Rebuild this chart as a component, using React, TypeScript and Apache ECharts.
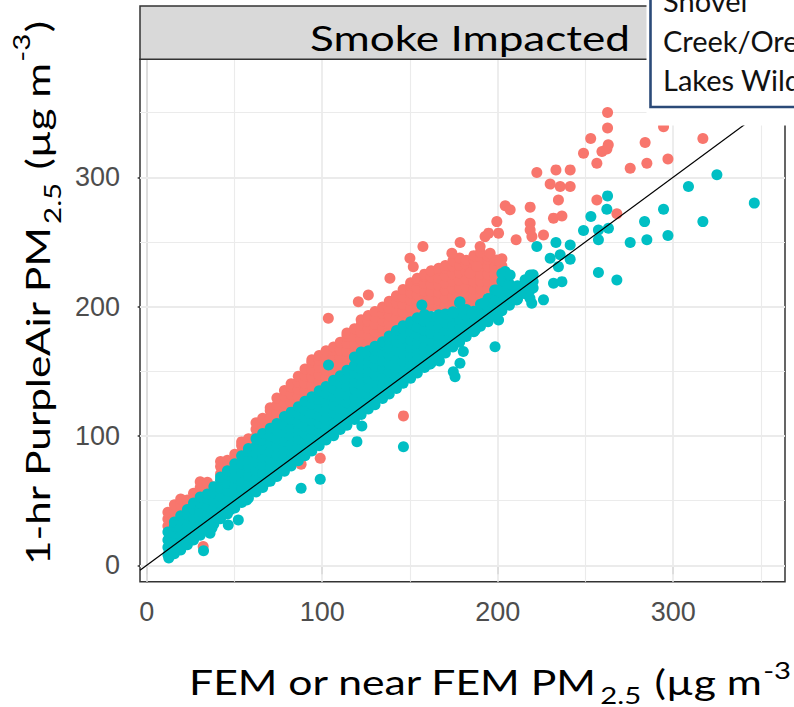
import { useEffect, useRef } from 'react';
import * as echarts from 'echarts';

// Panel limits (µg m-3), including the usual 5% padding around the data
const X_MIN = -3.8;
const X_MAX = 363.7;
const Y_MIN = -12.7;
const Y_MAX = 391.2;

const majorBreaks = [0, 100, 200, 300];
const minorBreaks = [50, 150, 250, 350];

const stripLabel = 'Smoke Impacted';
const siteLabel = ['Shovel', 'Creek/Ore', 'Lakes Wild'];

const SALMON = '#F8766D';
const TEAL = '#00BFC4';

// Dense part of the salmon cloud: [FEM value, PurpleAir values at that FEM value]
const salmonBand: [number, number[]][] = [
  [12.1, [30.4, 35.8, 40.9]],
  [15.8, [36.2, 41.7, 46.8]],
  [19.4, [41.5, 46.9, 51.2]],
  [23.2, [45.3, 50.4]],
  [26.7, [49.8, 55.6]],
  [30.5, [55.1, 60.2, 64.6]],
  [34.6, [57.4, 62.9, 64.1]],
  [38.3, [60.6]],
  [42.1, [70.6, 76.3, 80.2]],
  [46.0, [75.4, 81.2]],
  [50.2, [80.3, 85.9]],
  [54.1, [87.1, 92.6, 95.4]],
  [58.0, [92.4, 97.9]],
  [62.3, [99.6, 105.2, 110.1]],
  [66.1, [103.8, 109.4, 113.6]],
  [70.4, [108.1, 113.9, 119.5, 121.8]],
  [74.2, [112.3, 118.1, 123.9, 129.4]],
  [78.5, [114.6, 119.2, 125.1, 130.8, 135.2]],
  [82.3, [121.1, 126.4, 132.2, 137.9, 140.3]],
  [86.4, [125.3, 130.2, 135.9, 141.6, 146.1]],
  [90.2, [129.6, 134.8, 140.5, 146.3, 151.7]],
  [94.1, [134.2, 139.6, 145.3, 151.1, 156.8, 158.9]],
  [98.3, [137.4, 141.7, 147.3, 153.1, 158.8, 162.2]],
  [102.2, [141.0, 145.1, 150.9, 156.6, 162.3, 165.8]],
  [106.5, [145.2, 148.9, 154.6, 160.4, 166.1, 168.7]],
  [110.3, [149.7, 154.8, 160.6, 166.3, 172.5]],
  [114.1, [154.3, 159.9, 165.7, 171.4, 177.2, 179.6]],
  [118.4, [160.1, 165.3, 171.1, 176.8, 182.9]],
  [122.2, [163.5, 168.6, 174.4, 180.1, 185.8, 189.9]],
  [126.3, [166.9, 171.5, 177.3, 183.0, 188.7, 193.1]],
  [130.1, [170.2, 174.8, 180.6, 186.3, 192.0, 196.2]],
  [134.4, [173.4, 177.6, 183.4, 189.1, 194.8, 199.7]],
  [138.2, [177.6, 181.3, 187.1, 192.8, 198.5, 204.1]],
  [142.3, [181.2, 185.6, 191.4, 197.1, 202.8, 208.4]],
  [146.1, [185.6, 190.2, 195.9, 201.7, 207.4, 213.2]],
  [150.4, [189.3, 193.5, 199.3, 205.0, 210.7, 216.4, 218.5]],
  [154.2, [192.8, 197.4, 203.1, 208.9, 214.6, 220.3, 221.9]],
  [158.3, [196.1, 200.6, 206.3, 212.1, 217.8, 223.5, 225.1]],
  [162.1, [200.1, 205.8, 211.6, 217.3, 223.1, 227.8]],
  [166.4, [199.2, 204.9, 210.7, 216.4, 222.2, 227.9, 229.6]],
  [170.2, [200.9, 206.6, 212.4, 218.1, 223.9, 229.6, 231.8]],
  [174.5, [202.3, 208.1, 213.8, 219.6, 225.3, 231.1, 235.4]],
  [178.3, [208.7, 214.4, 220.2, 225.9, 231.7, 237.6]],
  [182.1, [203.9, 209.6, 215.4, 221.1, 226.9, 232.6, 235.8]],
  [186.4, [202.1, 207.8, 213.6, 219.3, 225.1, 230.8, 236.5, 239.4]],
  [190.2, [208.2, 213.9, 219.7, 225.4, 231.2, 236.9, 242.1]],
  [194.5, [213.6, 219.4, 225.1, 230.9, 236.6, 239.2]],
  [198.3, [219.2, 224.9, 230.7, 235.8]],
  [202.4, [231.4, 236.9]],
];

// Isolated salmon points
const salmonScatter: [number, number][] = [
  [32.2, 14.6], [88.0, 78.1], [98.9, 82.8], [146.3, 115.5], [125.4, 127.8],
  [103.5, 191.0], [120.6, 203.8], [126.3, 209.0], [138.6, 221.9], [150.0, 237.4],
  [151.9, 230.9], [157.4, 246.4], [173.9, 241.3], [178.6, 249.5], [184.3, 225.8],
  [188.1, 231.0], [190.0, 246.4], [195.7, 241.3], [199.5, 236.1], [201.4, 234.8],
  [181.4, 202.6], [192.8, 254.1], [194.8, 256.8], [200.5, 256.8], [199.5, 265.7],
  [204.3, 277.9], [207.1, 274.8], [210.5, 251.6], [218.5, 276.9], [218.5, 264.5],
  [218.5, 259.3], [219.5, 254.1], [226.1, 255.4], [222.3, 303.6], [233.2, 305.7],
  [241.3, 305.7], [229.9, 294.7], [235.6, 292.8], [241.3, 292.8], [234.6, 282.5],
  [231.8, 268.4], [236.6, 270.1], [256.5, 282.5], [267.9, 271.7], [248.9, 318.6],
  [253.0, 330.0], [256.5, 310.9], [259.4, 319.9], [262.2, 321.8], [263.0, 325.1],
  [262.6, 338.0], [262.6, 350.0], [275.5, 307.0], [285.0, 310.9], [284.0, 326.8],
  [297.0, 314.2], [294.5, 339.0], [316.9, 330.0],
];

// Dense part of the teal cloud
const tealBand: [number, number[]][] = [
  [12.1, [8.2, 13.9, 19.6, 25.8]],
  [15.8, [8.9, 13.7, 18.6, 24.5, 30.2, 33.4]],
  [19.4, [11.8, 17.6, 23.1, 29.3, 34.6, 38.2]],
  [23.2, [15.9, 21.4, 27.6, 33.8, 39.1, 43.2]],
  [26.7, [19.6, 25.3, 31.4, 37.2, 43.6, 48.1]],
  [30.5, [23.2, 29.1, 35.6, 41.5, 47.9, 52.8]],
  [34.6, [27.8, 33.5, 39.2, 45.7, 51.3, 55.1]],
  [38.3, [32.0, 37.1, 43.4, 49.2, 55.6, 60.8]],
  [42.1, [35.9, 41.3, 47.1, 53.6, 59.4, 65.7, 68.2]],
  [46.0, [39.7, 44.6, 51.1, 57.5, 63.2, 69.8, 73.1]],
  [50.2, [44.3, 49.3, 55.2, 61.8, 67.6, 74.2, 78.4]],
  [54.1, [48.6, 53.4, 59.4, 65.1, 71.8, 78.3, 84.6]],
  [58.0, [52.1, 56.8, 63.3, 69.2, 75.9, 81.7, 88.1, 90.3]],
  [62.3, [56.7, 61.2, 67.1, 73.8, 79.6, 86.4, 92.1, 97.9]],
  [66.1, [60.2, 65.3, 71.4, 77.2, 84.0, 89.8, 96.5, 101.8]],
  [70.4, [64.9, 69.5, 75.2, 81.9, 87.7, 94.5, 100.2, 105.9]],
  [74.2, [68.6, 72.8, 79.4, 85.1, 91.9, 97.6, 104.5, 109.7]],
  [78.5, [72.7, 77.4, 83.2, 90.0, 95.8, 102.6, 108.3, 115.1]],
  [82.3, [76.8, 81.6, 87.5, 93.2, 100.1, 105.9, 112.7, 118.4]],
  [86.4, [80.9, 85.1, 91.6, 97.3, 104.2, 109.9, 116.8, 122.6]],
  [90.2, [84.6, 89.4, 95.1, 101.7, 107.5, 114.3, 120.1, 126.8]],
  [94.1, [88.3, 92.8, 99.3, 105.1, 111.9, 117.7, 124.5, 130.2]],
  [98.3, [92.4, 97.5, 103.2, 109.8, 115.6, 122.4, 128.1, 134.9]],
  [102.2, [96.8, 100.9, 107.4, 113.1, 120.0, 125.8, 132.6, 138.3]],
  [106.5, [100.2, 105.7, 111.3, 118.0, 123.8, 130.6, 136.4, 143.1]],
  [110.3, [104.9, 108.9, 115.5, 121.2, 128.1, 133.9, 140.7, 146.5]],
  [114.1, [108.3, 113.3, 119.0, 125.6, 131.4, 138.2, 144.0, 150.7]],
  [118.4, [112.7, 117.1, 123.6, 129.3, 136.2, 141.9, 148.8, 154.6, 161.1]],
  [122.2, [116.6, 121.4, 127.0, 133.7, 139.5, 146.3, 152.0, 158.8, 164.9]],
  [126.3, [120.8, 124.9, 131.5, 137.2, 144.1, 149.8, 156.7, 162.4, 165.8]],
  [130.1, [124.1, 129.3, 135.0, 141.6, 147.3, 154.2, 159.9, 166.7, 169.4]],
  [134.4, [128.9, 133.0, 139.6, 145.4, 152.2, 157.9, 164.8, 170.5, 172.8]],
  [138.2, [132.5, 137.4, 143.1, 149.7, 155.5, 162.3, 168.0, 174.8, 177.2]],
  [142.3, [136.7, 140.8, 147.5, 153.2, 160.1, 165.8, 172.7, 178.4, 181.6]],
  [146.1, [140.8, 145.3, 151.0, 157.6, 163.4, 170.2, 175.9, 182.7, 185.1]],
  [150.4, [144.6, 149.0, 155.6, 161.3, 168.2, 173.9, 180.8, 186.5, 188.2]],
  [154.2, [148.6, 153.4, 159.1, 165.7, 171.5, 178.3, 184.0, 190.8, 191.4]],
  [158.3, [152.9, 156.9, 163.5, 169.2, 176.1, 181.8, 188.7, 193.8]],
  [162.1, [156.3, 161.3, 167.0, 173.6, 179.4, 186.2, 192.4]],
  [166.4, [160.8, 165.0, 171.6, 177.3, 184.2, 189.9, 193.6]],
  [170.2, [164.1, 169.4, 175.1, 181.7, 187.5, 194.3]],
  [174.5, [168.7, 173.1, 179.7, 185.4, 192.3, 196.1]],
  [178.3, [172.4, 177.5, 183.2, 189.8, 195.6, 202.7]],
  [182.1, [176.9, 180.7, 187.3, 193.0, 197.8]],
  [186.4, [180.6, 185.6, 191.2, 196.4]],
  [190.2, [184.8, 188.8, 195.4, 201.8]],
  [194.5, [188.2, 193.7, 199.3, 206.2]],
  [198.3, [192.6, 196.9, 203.5, 209.1, 212.9]],
  [202.4, [196.8, 201.6, 207.2, 213.9, 219.6, 225.6]],
  [206.7, [201.1, 205.3, 211.9, 217.5, 224.3]],
  [211.3, [205.7, 210.5, 216.2]],
  [215.6, [209.9, 214.1, 220.8]],
  [220.2, [214.4, 219.4, 224.6]],
];

// Isolated teal points
const tealScatter: [number, number][] = [
  [12.6, 5.6], [32.4, 11.2], [36.1, 24.7], [37.2, 28.9], [46.5, 31.2],
  [52.2, 35.0], [40.8, 40.2], [47.5, 42.8], [57.0, 50.5], [68.4, 64.6],
  [88.0, 59.6], [98.9, 66.5], [119.8, 95.6], [122.6, 107.7], [146.3, 91.7],
  [103.6, 154.9], [161.2, 155.4], [166.8, 157.9], [174.7, 149.7], [175.7, 145.8],
  [178.5, 156.2], [180.4, 165.2], [198.5, 169.0], [187.2, 182.0], [195.6, 192.2],
  [200.5, 189.7], [156.8, 201.3], [165.2, 192.2], [174.7, 194.9], [178.5, 203.8],
  [185.2, 194.9], [191.8, 202.6], [199.5, 212.9], [200.5, 202.6], [210.8, 205.1],
  [218.4, 206.4], [219.4, 202.6], [226.1, 205.2], [218.5, 212.9], [218.5, 224.5],
  [204.3, 227.1], [207.1, 224.5], [222.3, 246.4], [233.2, 249.5], [241.3, 247.7],
  [229.9, 237.4], [235.6, 240.0], [241.3, 236.7], [234.6, 230.9], [231.8, 218.1],
  [236.6, 219.3], [248.9, 258.8], [253.1, 269.6], [257.4, 259.3], [257.4, 251.6],
  [263.1, 260.6], [262.2, 275.3], [262.6, 285.6], [257.4, 226.3], [267.9, 220.6],
  [275.5, 249.5], [285.0, 251.6], [283.7, 265.7], [294.5, 275.3], [297.0, 254.9],
  [308.7, 292.8], [316.9, 265.7], [324.9, 301.9], [346.2, 280.0],
];

const bandPoints = (band: [number, number[]][]) =>
  band.flatMap(([x, ys]) => ys.map((y) => [x, y]));

// Title pieces: main text, subscript and superscript runs
type Run = { text: string; size: number; dy: number; gap: number };

const xTitleRuns: Run[] = [
  { text: 'FEM or near FEM PM', size: 35, dy: 0, gap: 0 },
  { text: '2.5', size: 24, dy: 14, gap: 2 },
  { text: ' (µg m', size: 35, dy: 0, gap: 2 },
  { text: '-3', size: 24, dy: -11, gap: 1 },
];

const yTitleRuns: Run[] = [
  { text: '1-hr PurpleAir PM', size: 33, dy: 0, gap: 0 },
  { text: '2.5', size: 23, dy: 15, gap: 1 },
  { text: ' (µg m', size: 33, dy: 0, gap: 2 },
  { text: '-3', size: 23, dy: -16, gap: 1 },
  { text: ')', size: 33, dy: 0, gap: 1 },
];

const TITLE_FONT = 'Lato, "Open Sans", sans-serif';
const TICK_FONT = '"Liberation Sans", Arial, sans-serif';

let measureCtx: CanvasRenderingContext2D | null = null;
function runWidth(text: string, size: number): number {
  if (!measureCtx) measureCtx = document.createElement('canvas').getContext('2d');
  if (!measureCtx) return text.length * size * 0.52;
  measureCtx.font = `${size}px ${TITLE_FONT}`;
  return measureCtx.measureText(text).width;
}

// Lays the runs out one after another and stretches the group so the first
// `fitCount` runs cover `span` pixels.
function titleGroup(
  runs: Run[],
  x: number,
  y: number,
  rotation: number,
  span: number,
  fitCount: number,
  z: number
) {
  let cursor = 0;
  let fitted = 0;
  const children = runs.map((r, i) => {
    cursor += r.gap;
    const el = {
      type: 'text',
      x: cursor,
      y: r.dy,
      z,
      silent: true,
      style: {
        text: r.text,
        font: `${r.size}px ${TITLE_FONT}`,
        fill: '#000000',
        align: 'left',
        verticalAlign: 'middle',
      },
    };
    cursor += runWidth(r.text, r.size);
    if (i < fitCount) fitted = cursor;
    return el;
  });
  return {
    type: 'group',
    x,
    y,
    rotation,
    scaleX: span / fitted,
    z,
    children,
  };
}

export default function App() {
  const ref = useRef<HTMLDivElement>(null);

  useEffect(() => {
    if (!ref.current) return;
    const chart = echarts.init(ref.current, undefined, { renderer: 'svg' });

    const gridLines = [
      ...majorBreaks.map((v) => ({ xAxis: v, lineStyle: { width: 1.8 } })),
      ...majorBreaks.map((v) => ({ yAxis: v, lineStyle: { width: 1.8 } })),
      ...minorBreaks.map((v) => ({ xAxis: v, lineStyle: { width: 1.1 } })),
      ...minorBreaks.map((v) => ({ yAxis: v, lineStyle: { width: 1.1 } })),
    ];

    const axisCommon = {
      type: 'value' as const,
      axisLine: { show: true, lineStyle: { color: '#333333', width: 1.5 } },
      axisTick: {
        show: true,
        customValues: majorBreaks,
        length: 9,
        lineStyle: { color: '#333333', width: 1.5 },
      },
      splitLine: { show: false },
    };

    chart.setOption({
      animation: false,
      backgroundColor: '#ffffff',
      grid: {
        left: 140,
        top: 59.3,
        right: 9,
        bottom: 125.3,
        show: true,
        borderColor: '#333333',
        borderWidth: 1.5,
        backgroundColor: '#ffffff',
      },
      xAxis: {
        ...axisCommon,
        min: X_MIN,
        max: X_MAX,
        axisLabel: {
          customValues: majorBreaks,
          fontSize: 27,
          fontFamily: TICK_FONT,
          color: '#4D4D4D',
          margin: 17,
        },
      },
      yAxis: {
        ...axisCommon,
        min: Y_MIN,
        max: Y_MAX,
        axisLabel: {
          customValues: majorBreaks,
          fontSize: 27,
          fontFamily: TICK_FONT,
          color: '#4D4D4D',
          margin: 20,
        },
      },
      series: [
        {
          type: 'scatter',
          data: [],
          silent: true,
          z: 1,
          markLine: {
            silent: true,
            z: 1,
            symbol: ['none', 'none'],
            label: { show: false },
            lineStyle: { color: '#EBEBEB', type: 'solid' },
            data: gridLines,
          },
        },
        {
          name: 'salmon',
          type: 'scatter',
          z: 3,
          symbolSize: 11,
          itemStyle: { color: SALMON, opacity: 1 },
          data: [...bandPoints(salmonBand), ...salmonScatter],
        },
        {
          name: 'teal',
          type: 'scatter',
          z: 4,
          symbolSize: 11,
          itemStyle: { color: TEAL, opacity: 1 },
          data: [...bandPoints(tealBand), ...tealScatter],
        },
        {
          // 1:1 reference line
          type: 'line',
          z: 5,
          silent: true,
          symbol: 'none',
          lineStyle: { color: '#000000', width: 1.2 },
          data: [
            [X_MIN, X_MIN],
            [X_MAX, X_MAX],
          ],
        },
      ],
      graphic: [
        {
          type: 'rect',
          z: 10,
          silent: true,
          shape: { x: 140, y: 6, width: 660, height: 53.3 },
          style: { fill: '#D9D9D9', stroke: '#333333', lineWidth: 1.5 },
        },
        titleGroup(
          [{ text: stripLabel, size: 35, dy: 0, gap: 0 }],
          310,
          37.5,
          0,
          320,
          1,
          11
        ),
        {
          type: 'rect',
          z: 20,
          silent: true,
          shape: { x: 646.5, y: 0, width: 150, height: 125.5 },
          style: { fill: '#ffffff' },
        },
        {
          type: 'rect',
          z: 21,
          silent: true,
          shape: { x: 650.5, y: -10, width: 160, height: 117 },
          style: { fill: '#ffffff', stroke: '#2B4A78', lineWidth: 2.6 },
        },
        ...siteLabel.map((t, i) => ({
          type: 'text',
          z: 22,
          silent: true,
          x: 663,
          y: 0.5 + i * 39.5,
          style: {
            text: t,
            font: `29px ${TITLE_FONT}`,
            fill: '#111111',
            align: 'left',
            verticalAlign: 'middle',
          },
        })),
        titleGroup(xTitleRuns, 189, 681, 0, 602, 4, 30),
        titleGroup(yTitleRuns, 37, 565, Math.PI / 2, 544, 5, 30),
      ],
    });

    return () => chart.dispose();
  }, []);

  return (
    <div
      ref={ref}
      style={{ position: 'fixed', left: 0, top: 0, width: 794, height: 707 }}
    />
  );
}
